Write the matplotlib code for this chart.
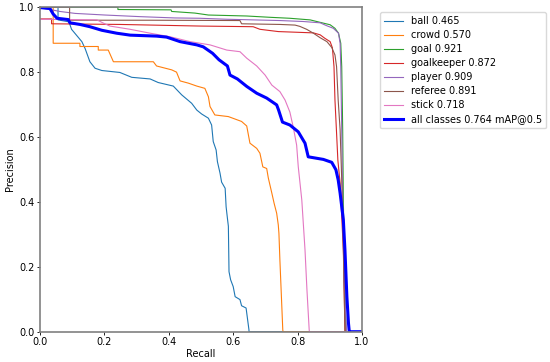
import numpy as np
import matplotlib
matplotlib.use("Agg")
import matplotlib.pyplot as plt

# precision-recall curves
names = ["ball", "crowd", "goal", "goalkeeper", "player", "referee", "stick"]
ap = [0.465, 0.570, 0.921, 0.872, 0.909, 0.891, 0.718]
map50 = 0.764

ball_r = [0, 0.056, 0.056, 0.090, 0.098, 0.130, 0.140, 0.155, 0.171, 0.192, 0.248, 0.285,
          0.342, 0.367, 0.414, 0.440, 0.471, 0.487, 0.502, 0.523, 0.533, 0.538, 0.547,
          0.551, 0.559, 0.564, 0.575, 0.578, 0.582, 0.585, 0.587, 0.592, 0.600, 0.606,
          0.621, 0.626, 0.640, 0.649, 0.649, 1.0]
ball_p = [1.0, 1.0, 0.961, 0.955, 0.932, 0.894, 0.873, 0.832, 0.812, 0.805, 0.799, 0.784,
          0.779, 0.768, 0.757, 0.730, 0.704, 0.683, 0.671, 0.658, 0.637, 0.586, 0.560,
          0.524, 0.489, 0.461, 0.442, 0.385, 0.350, 0.325, 0.185, 0.160, 0.139, 0.108,
          0.099, 0.080, 0.073, 0.005, 0.0, 0.0]

crowd_r = [0, 0.041, 0.041, 0.124, 0.124, 0.181, 0.181, 0.212, 0.228, 0.352, 0.362, 0.409,
           0.424, 0.435, 0.461, 0.487, 0.512, 0.523, 0.528, 0.543, 0.585, 0.626, 0.642,
           0.652, 0.673, 0.683, 0.692, 0.704, 0.709, 0.720, 0.727, 0.735, 0.740, 0.742,
           0.745, 0.754, 0.755, 1.0]
crowd_p = [1.0, 1.0, 0.889, 0.889, 0.879, 0.879, 0.868, 0.868, 0.832, 0.832, 0.819, 0.807,
           0.800, 0.773, 0.766, 0.757, 0.750, 0.724, 0.694, 0.668, 0.663, 0.648, 0.634,
           0.581, 0.565, 0.550, 0.508, 0.503, 0.474, 0.427, 0.396, 0.365, 0.329, 0.303,
           0.221, 0.005, 0.0, 0.0]

goal_r = [0, 0.242, 0.242, 0.407, 0.409, 0.481, 0.523, 0.642, 0.714, 0.776, 0.839, 0.880,
          0.901, 0.916, 0.927, 0.934, 0.937, 0.940, 0.942, 0.946, 0.950, 0.950, 1.0]
goal_p = [1.0, 1.0, 0.993, 0.992, 0.987, 0.982, 0.976, 0.973, 0.969, 0.966, 0.961, 0.951,
          0.946, 0.935, 0.920, 0.889, 0.817, 0.622, 0.406, 0.159, 0.005, 0.0, 0.0]

gk_r = [0, 0.036, 0.036, 0.248, 0.497, 0.662, 0.683, 0.740, 0.849, 0.870, 0.885, 0.901,
        0.908, 0.913, 0.916, 0.921, 0.925, 0.932, 0.942, 0.947, 0.947, 1.0]
gk_p = [0.964, 0.964, 0.949, 0.947, 0.942, 0.940, 0.932, 0.925, 0.921, 0.915, 0.904, 0.894,
        0.875, 0.817, 0.714, 0.612, 0.529, 0.458, 0.252, 0.005, 0.0, 0.0]

player_r = [0, 0.031, 0.062, 0.109, 0.202, 0.311, 0.419, 0.497, 0.580, 0.745, 0.818, 0.870,
            0.888, 0.911, 0.927, 0.932, 0.934, 0.937, 0.940, 0.944, 0.952, 0.952, 1.0]
player_p = [0.998, 0.993, 0.987, 0.981, 0.976, 0.971, 0.967, 0.966, 0.963, 0.959, 0.956, 0.952,
            0.944, 0.935, 0.920, 0.889, 0.817, 0.622, 0.406, 0.159, 0.005, 0.0, 0.0]

ref_r = [0, 0.092, 0.092, 0.342, 0.621, 0.626, 0.745, 0.792, 0.807, 0.828, 0.849, 0.870,
         0.891, 0.906, 0.916, 0.921, 0.926, 0.932, 0.937, 0.943, 0.947, 0.948, 1.0]
ref_p = [1.0, 1.0, 0.960, 0.960, 0.959, 0.949, 0.947, 0.945, 0.941, 0.932, 0.920, 0.906,
         0.894, 0.876, 0.853, 0.817, 0.714, 0.622, 0.468, 0.221, 0.005, 0.0, 0.0]

stick_r = [0, 0.177, 0.197, 0.217, 0.280, 0.342, 0.404, 0.466, 0.528, 0.580, 0.621, 0.642,
           0.673, 0.699, 0.720, 0.745, 0.761, 0.776, 0.787, 0.797, 0.802, 0.813, 0.823,
           0.829, 0.836, 0.837, 1.0]
stick_p = [0.963, 0.961, 0.951, 0.942, 0.932, 0.920, 0.909, 0.894, 0.884, 0.868, 0.863, 0.843,
           0.819, 0.791, 0.760, 0.740, 0.714, 0.677, 0.628, 0.575, 0.509, 0.406, 0.252,
           0.129, 0.005, 0.0, 0.0]

all_r = [0, 0.031, 0.041, 0.053, 0.088, 0.093, 0.124, 0.155, 0.192, 0.238, 0.280, 0.362,
         0.393, 0.435, 0.487, 0.507, 0.536, 0.556, 0.582, 0.590, 0.613, 0.642, 0.673, 0.704,
         0.735, 0.741, 0.753, 0.776, 0.802, 0.823, 0.833, 0.880, 0.906, 0.919, 0.926, 0.932,
         0.942, 0.947, 0.953, 0.958, 0.960, 0.961, 1.0]
all_p = [0.999, 0.996, 0.979, 0.966, 0.962, 0.952, 0.947, 0.940, 0.929, 0.920, 0.914, 0.911,
         0.908, 0.894, 0.884, 0.878, 0.858, 0.838, 0.819, 0.791, 0.779, 0.756, 0.735, 0.720,
         0.699, 0.683, 0.646, 0.637, 0.616, 0.581, 0.539, 0.531, 0.522, 0.499, 0.468, 0.427,
         0.345, 0.252, 0.108, 0.026, 0.005, 0.0, 0.0]

curves = [(ball_r, ball_p), (crowd_r, crowd_p), (goal_r, goal_p), (gk_r, gk_p),
          (player_r, player_p), (ref_r, ref_p), (stick_r, stick_p)]

fig = plt.figure(figsize=(5.5, 3.62), dpi=100)
ax = fig.add_axes([0.0727, 0.0837, 0.5855, 0.8963])

for i, (r, p) in enumerate(curves):
    ax.plot(r, p, lw=0.8, color=f"C{i}", label=f"{names[i]} {ap[i]:.3f}")
ax.plot(all_r, all_p, lw=2.2, color="blue", label=f"all classes {map50:.3f} mAP@0.5")

ax.set_xlim(0, 1)
ax.set_ylim(0, 1)
ax.set_xlabel("Recall", fontsize=7, labelpad=1.5)
ax.set_ylabel("Precision", fontsize=7, labelpad=3)
ax.tick_params(labelsize=7, length=2.5, width=0.6, pad=1.5)
for s in ax.spines.values():
    s.set_color("0.5")
    s.set_linewidth(1.2)

ax.legend(bbox_to_anchor=(1.04, 1), loc="upper left", fontsize=7,
          handlelength=2.0, labelspacing=0.42, framealpha=1.0, edgecolor="0.85")

fig.savefig("out.png", dpi=100)
